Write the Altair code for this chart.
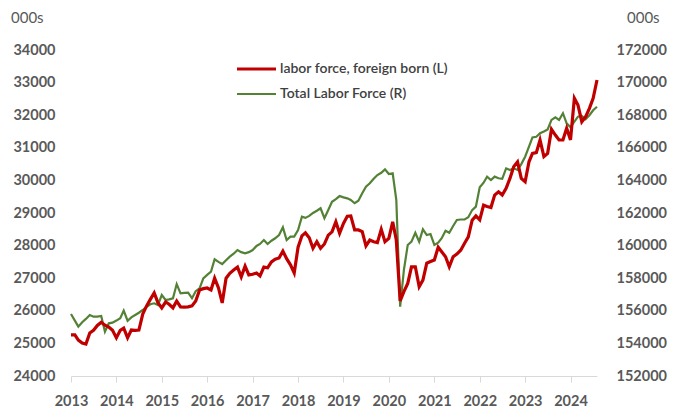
import altair as alt
import pandas as pd

# Monthly observations, Jan 2013 - Aug 2024 (thousands)
months = pd.date_range("2013-01-01", periods=140, freq="MS").strftime("%Y-%m-%d").tolist()

foreign_born = [
    25260, 25260, 25100, 25010, 24980, 25320, 25400, 25550, 25650, 25560, 25500, 25400,  # 2013
    25170, 25400, 25470, 25170, 25410, 25400, 25410, 25900, 26150, 26350, 26550, 26250,  # 2014
    26090, 26270, 26200, 26090, 26300, 26120, 26110, 26120, 26150, 26300, 26640, 26680,  # 2015
    26700, 26640, 27000, 26700, 26240, 27000, 27150, 27250, 27340, 27040, 27370, 27100,  # 2016
    27120, 27160, 27070, 27340, 27320, 27500, 27580, 27620, 27830, 27600, 27410, 27160,  # 2017
    27950, 28300, 28390, 28240, 27920, 28120, 27920, 28050, 28320, 28420, 28730, 28380,  # 2018
    28680, 28900, 28910, 28480, 28480, 28430, 27990, 28170, 28120, 28090, 28500, 28120,  # 2019
    28220, 28730, 28170, 26300, 26590, 26840, 27350, 27350, 26740, 26940, 27460, 27510,  # 2020
    27560, 27950, 27810, 27660, 27350, 27660, 27740, 27860, 28070, 28270, 28780, 28910,  # 2021
    28790, 29240, 29200, 29170, 29550, 29650, 29550, 29760, 30060, 30420, 30570, 30060,  # 2022
    29960, 30570, 30830, 30850, 31240, 30730, 30830, 31570, 31390, 31240, 31240, 31600,  # 2023
    31240, 32520, 32310, 31800, 31950, 32210, 32520, 33080,                              # 2024
]

total_labor_force = [
    155800, 155400, 155030, 155300, 155500, 155740, 155640, 155640, 155680, 154720, 155230, 155270,  # 2013
    155400, 155540, 156010, 155390, 155600, 155740, 155880, 156050, 156250, 156400, 156460, 156360,  # 2014
    156970, 156660, 156700, 156770, 157640, 157070, 157100, 157110, 156770, 157200, 157380, 157990,  # 2015
    158200, 158400, 159160, 159000, 158870, 159100, 159320, 159500, 159730, 159600, 159530, 159600,  # 2016
    159730, 159980, 160100, 160340, 160100, 160300, 160450, 160650, 161120, 160340, 160550, 160550,  # 2017
    160950, 161770, 161700, 161820, 162000, 162140, 162290, 161680, 162180, 162690, 162850, 163040,  # 2018
    162960, 162900, 162800, 162600, 162750, 163210, 163610, 163820, 164100, 164330, 164470, 164680,  # 2019
    164390, 164440, 162800, 156250, 158500, 160040, 160240, 160790, 160240, 161000, 160650, 160710,  # 2020
    160040, 160180, 160450, 160910, 160790, 161200, 161570, 161600, 161610, 161740, 162180, 162390,  # 2021
    163580, 163860, 164230, 164020, 164230, 164130, 164100, 164740, 164640, 164740, 164640, 165000,  # 2022
    165450, 166070, 166640, 166680, 166890, 167000, 167130, 167710, 167870, 167710, 168120, 167500,  # 2023
    167260, 167600, 167910, 167950, 167750, 168000, 168300, 168520,                                  # 2024
]

left_ticks = list(range(24000, 34001, 1000))
right_ticks = list(range(152000, 172001, 2000))

series_names = ["labor force, foreign born (L)", "Total Labor Force (R)"]
series_colors = ["#C00000", "#538135"]

df = pd.DataFrame({"date": months, "foreign": foreign_born, "total": total_labor_force})

FONT = "Lato"
GRAY = "#595959"

x_enc = alt.X(
    "date:T",
    scale=alt.Scale(domain=["2013-01-01", "2024-08-01"], nice=False, padding=0),
    axis=alt.Axis(
        title=None, format="%Y", tickCount={"interval": "year", "step": 1},
        grid=False, domainColor="#d9d9d9", tickColor="#d9d9d9", tickSize=6,
        labelFont=FONT, labelFontSize=14.5, labelFontWeight="bold", labelColor=GRAY,
        labelPadding=12, labelFlush=False,
    ),
)

base = alt.Chart(df)

green = base.mark_line(color=series_colors[1], strokeWidth=2.2).encode(
    x=x_enc,
    y=alt.Y(
        "total:Q",
        scale=alt.Scale(domain=[152000, 172000], nice=False, zero=False),
        axis=alt.Axis(
            orient="right", title=None, values=right_ticks, format="d",
            grid=False, domain=False, ticks=False, tickSize=0, labelPadding=19,
            labelFont=FONT, labelFontSize=14.5, labelFontWeight="bold", labelColor=GRAY,
        ),
    ),
)

red = base.mark_line(color=series_colors[0], strokeWidth=3.2).encode(
    x=x_enc,
    y=alt.Y(
        "foreign:Q",
        scale=alt.Scale(domain=[24000, 34000], nice=False, zero=False),
        axis=alt.Axis(
            orient="left", title=None, values=left_ticks, format="d",
            grid=False, domain=False, ticks=False, tickSize=0, labelPadding=16,
            labelFont=FONT, labelFontSize=14.5, labelFontWeight="bold", labelColor=GRAY,
        ),
    ),
)

# Legend (drawn inside the plot)
leg_df = pd.DataFrame({"name": series_names, "color": series_colors, "ly": [19, 44], "sw": [3, 2.2]})
leg_rules = alt.Chart(leg_df).mark_rule().encode(
    x=alt.value(166), x2=alt.value(205),
    y=alt.Y("ly:Q", scale=None),
    color=alt.Color("color:N", scale=None),
    strokeWidth=alt.StrokeWidth("sw:Q", scale=None),
)
leg_text = alt.Chart(leg_df).mark_text(
    align="left", baseline="middle", font=FONT, fontSize=14, fontWeight=600, color="#404040"
).encode(
    x=alt.value(209), y=alt.Y("ly:Q", scale=None), text="name:N"
)

unit_df = pd.DataFrame({"t": ["000s", "000s"], "ux": [-60, 556]})
units = alt.Chart(unit_df).mark_text(
    align="left", baseline="middle", font=FONT, fontSize=15, color=GRAY
).encode(
    x=alt.X("ux:Q", scale=None), y=alt.value(-32), text="t:N"
)

chart = alt.layer(green, red, leg_rules, leg_text, units).resolve_scale(
    y="independent"
).properties(
    width=526, height=326,
    autosize=alt.AutoSizeParams(type="none"),
    padding={"left": 63, "top": 42, "right": 80, "bottom": 31},
).configure_view(stroke=None)

chart.save("out.html", embed_options={"renderer": "svg", "actions": False})
